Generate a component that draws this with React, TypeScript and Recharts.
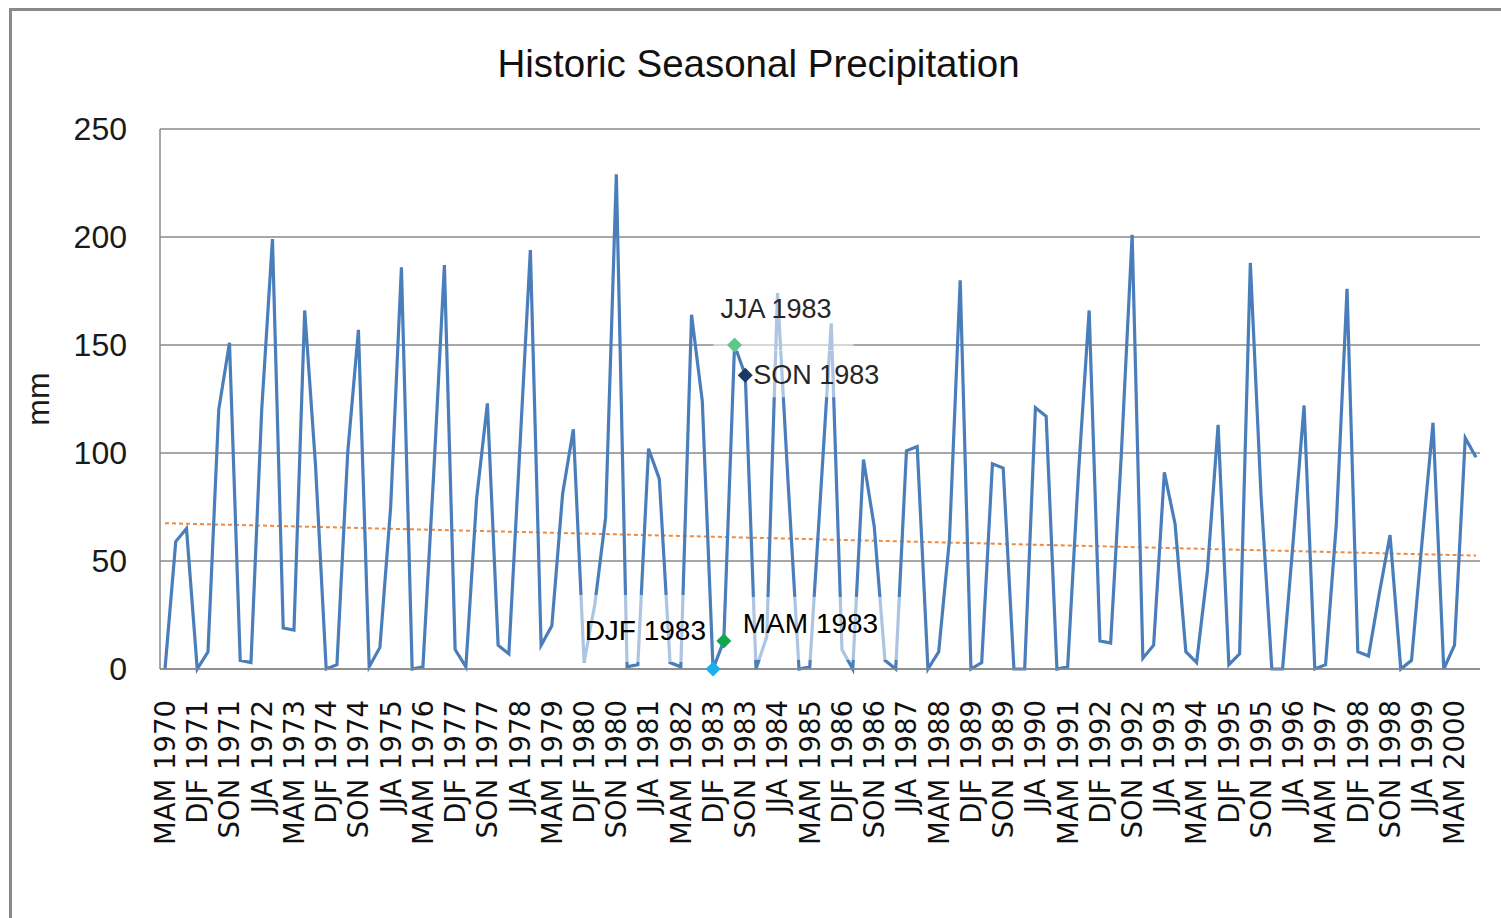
import React from "react";
import { LineChart, Line, XAxis, YAxis, CartesianGrid, ReferenceLine } from "recharts";

const SEASONS = ["MAM", "JJA", "SON", "DJF"];
const START_YEAR = 1970;

// seasonal precipitation (mm), MAM 1970 .. SON 2000
const precip = [
  0, 59, 65, 0, 8, 120, 151, 4, 3, 120,
  199, 19, 18, 166, 95, 0, 2, 100, 157, 1,
  10, 75, 186, 0, 1, 90, 187, 9, 1, 79,
  123, 11, 7, 100, 194, 11, 20, 81, 111, 3,
  30, 70, 229, 1, 2, 102, 88, 3, 1, 164,
  124, 0, 13, 150, 136, 0, 15, 174, 85, 0,
  1, 80, 160, 9, 0, 97, 66, 4, 0, 101,
  103, 0, 8, 60, 180, 0, 3, 95, 93, 0,
  0, 121, 117, 0, 1, 90, 166, 13, 12, 100,
  201, 5, 11, 91, 67, 8, 3, 45, 113, 2,
  7, 188, 80, 0, 0, 60, 122, 0, 2, 67,
  176, 8, 6, 35, 62, 0, 4, 60, 114, 0,
  11, 107, 98,
];

// DJF carries the year of its January
const categories = precip.map((_, i) => {
  const s = SEASONS[i % 4];
  const yr = START_YEAR + Math.floor(i / 4) + (s === "DJF" ? 1 : 0);
  return `${s} ${yr}`;
});

const yTicks = [0, 50, 100, 150, 200, 250];
const trendStart = 67.5;
const trendEnd = 52.5;

const highlighted = ["DJF 1983", "MAM 1983", "JJA 1983", "SON 1983"];

// marker colour + label placement relative to the point
const markerStyle: Record<string, any> = {
  "DJF 1983": { color: "#1AB0EE", tx: -7, ty: -39, anchor: "end", size: 28, fill: "#000", box: [-137, -74, 131, 67] },
  "MAM 1983": { color: "#12A651", tx: 19, ty: -17, anchor: "start", size: 28, fill: "#000", box: [14, -44, 163, 63] },
  "JJA 1983": { color: "#5CC88A", tx: -14, ty: -36, anchor: "start", size: 27, fill: "#262626", box: [-21, -61, 140, 67] },
  "SON 1983": { color: "#1B3860", tx: 8, ty: 0, anchor: "start", size: 27, fill: "#262626", box: [5, -25, 103, 47] },
};

const FONT = '"Liberation Sans", Arial, sans-serif';

function XTick({ x, y, payload }: any) {
  return (
    <text
      x={x}
      y={y}
      dy="0.36em"
      transform={`rotate(-90 ${x} ${y})`}
      textAnchor="end"
      fontSize={27.5}
      fontFamily='"DejaVu Sans", Verdana, sans-serif'
      fill="#111"
    >
      {payload.value}
    </text>
  );
}

function MmLabel({ viewBox }: any) {
  const x = viewBox.x + 38;
  const y = viewBox.y + viewBox.height / 2;
  return (
    <text
      x={x}
      y={y}
      transform={`rotate(-90 ${x} ${y})`}
      textAnchor="middle"
      dominantBaseline="central"
      fontSize={32}
      fontFamily={FONT}
      fill="#1a1a1a"
    >
      mm
    </text>
  );
}

function renderDot(props: any) {
  const { cx, cy, index, payload } = props;
  if (!highlighted.includes(payload.season)) return <g key={`d${index}`} />;
  const st = markerStyle[payload.season];
  const r = 7.5;
  return (
    <g key={`d${index}`}>
      <rect x={cx + st.box[0]} y={cy + st.box[1]} width={st.box[2]} height={st.box[3]} fill="#fff" fillOpacity={0.55} />
      <text
        x={cx + st.tx}
        y={cy + st.ty}
        textAnchor={st.anchor}
        dominantBaseline="central"
        fontSize={st.size}
        fontFamily={FONT}
        fill={st.fill}
      >
        {payload.season}
      </text>
      <path d={`M${cx} ${cy - r} L${cx + r} ${cy} L${cx} ${cy + r} L${cx - r} ${cy} Z`} fill={st.color} />
    </g>
  );
}

export default function App() {
  const data = categories.map((c, i) => ({ season: c, mm: precip[i] }));
  return (
    <div style={{ position: "absolute", left: 0, top: 0, width: 1501, height: 918, background: "#fff", overflow: "hidden", fontFamily: FONT }}>
      <div
        style={{
          position: "absolute",
          left: 9,
          top: 8,
          width: 1492,
          height: 910,
          borderTop: "3px solid #8a8a8a",
          borderLeft: "3px solid #8a8a8a",
          boxSizing: "border-box",
        }}
      />
      <div style={{ position: "absolute", left: 0, top: 0 }}>
        <LineChart width={1501} height={918} data={data} margin={{ top: 129, right: 21, bottom: 0, left: 0 }}>
          <CartesianGrid vertical={false} stroke="#8a8a8a" strokeWidth={1.5} />
          <XAxis
            dataKey="season"
            interval={2}
            height={249}
            padding={{ left: 5, right: 4 }}
            tickLine={false}
            tickSize={0}
            tickMargin={31}
            axisLine={{ stroke: "#8a8a8a", strokeWidth: 1.5 }}
            tick={<XTick />}
          />
          <YAxis
            domain={[0, 250]}
            ticks={yTicks}
            width={160}
            tickLine={false}
            tickSize={0}
            tickMargin={33}
            axisLine={{ stroke: "#8a8a8a", strokeWidth: 1.5 }}
            tick={{ fontSize: 32, fill: "#1a1a1a", fontFamily: FONT }}
            label={<MmLabel />}
          />
          <ReferenceLine
            segment={[
              { x: categories[0], y: trendStart },
              { x: categories[categories.length - 1], y: trendEnd },
            ]}
            stroke="#F08A3C"
            strokeWidth={2}
            strokeDasharray="4 3"
            ifOverflow="visible"
          />
          <Line
            type="linear"
            dataKey="mm"
            stroke="#4A7EBB"
            strokeWidth={3.2}
            dot={renderDot}
            activeDot={false}
            isAnimationActive={false}
          />
        </LineChart>
      </div>
      <div
        style={{
          position: "absolute",
          left: 0,
          width: 1517,
          top: 42,
          textAlign: "center",
          fontSize: 38.5,
          lineHeight: "44px",
          color: "#111",
        }}
      >
        Historic Seasonal Precipitation
      </div>
    </div>
  );
}
